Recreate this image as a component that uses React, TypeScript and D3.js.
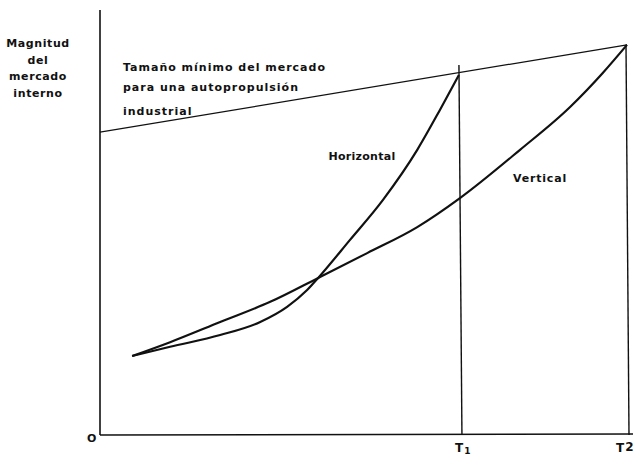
import React, { useEffect, useRef } from "react";
import * as d3 from "d3";

// time (0..100, T2 = 100) vs market size (0..100)
const horizontalX = [6.1, 13.3, 22.8, 30.4, 35.5, 39.3, 41.4, 47.4, 53.7, 60.2, 64.5, 68.1];
const horizontalY = [18.8, 21.0, 23.8, 26.9, 30.5, 34.5, 37.4, 46.4, 56.0, 67.9, 77.4, 85.7];
const verticalX = [6.1, 13.3, 22.8, 32.3, 41.4, 50.7, 60.2, 68.3, 79.7, 89.2, 95.4, 100];
const verticalY = [18.8, 22.1, 26.9, 31.7, 37.4, 43.3, 49.5, 56.4, 67.9, 78.1, 86.2, 92.9];
const thresholdX = [0, 100];
const thresholdY = [72.1, 92.9];
const tickValues = [68.3, 100];
const tickLabels = ["T", "T"];
const tickSubs = ["1", "2"];
const yTitle = ["Magnitud", "del", "mercado", "interno"];
const thresholdLabel = ["Tamaño mínimo del mercado", "para una autopropulsión", "industrial"];

const App = () => {
    const ref = useRef<SVGSVGElement>(null);

    useEffect(() => {
        const width = 644;
        const height = 458;
        const svg = d3.select(ref.current);
        svg.selectAll("*").remove();

        const x = d3.scaleLinear().domain([0, 100]).range([100, 627]);
        const y = d3.scaleLinear().domain([0, 100]).range([435, 15]);
        const font = "'DejaVu Sans', sans-serif";

        svg.append("rect").attr("width", width).attr("height", height).attr("fill", "#fff");

        // axes
        svg.append("line")
            .attr("x1", x(0)).attr("x2", x(0))
            .attr("y1", 10).attr("y2", y(0))
            .attr("stroke", "#111").attr("stroke-width", 1.6);
        svg.append("line")
            .attr("x1", x(0)).attr("x2", 633)
            .attr("y1", y(0)).attr("y2", y(0) - 1)
            .attr("stroke", "#111").attr("stroke-width", 1.4);

        // T1 / T2 verticals
        const tLines = [
            { t: tickValues[0], top: y(horizontalY[horizontalY.length - 1]) - 10 },
            { t: tickValues[1], top: y(thresholdY[1]) },
        ];
        tLines.forEach((d) => {
            svg.append("line")
                .attr("x1", x(d.t) - 1).attr("x2", x(d.t) + 2)
                .attr("y1", d.top).attr("y2", y(0))
                .attr("stroke", "#111").attr("stroke-width", 1.4);
        });

        // threshold line
        svg.append("path")
            .datum(thresholdX.map((v, i) => [v, thresholdY[i]] as [number, number]))
            .attr("d", d3.line().x((d) => x(d[0])).y((d) => y(d[1])))
            .attr("fill", "none").attr("stroke", "#111").attr("stroke-width", 1.3);

        const curve = d3.line<[number, number]>()
            .x((d) => x(d[0])).y((d) => y(d[1]))
            .curve(d3.curveMonotoneX);

        svg.append("path")
            .datum(horizontalX.map((v, i) => [v, horizontalY[i]] as [number, number]))
            .attr("d", curve)
            .attr("fill", "none").attr("stroke", "#111").attr("stroke-width", 2.2);
        svg.append("path")
            .datum(verticalX.map((v, i) => [v, verticalY[i]] as [number, number]))
            .attr("d", curve)
            .attr("fill", "none").attr("stroke", "#111").attr("stroke-width", 2.2);

        const text = (tx: number, ty: number, s: string, anchor = "start", size = 11, ls = 0.6) =>
            svg.append("text")
                .attr("x", tx).attr("y", ty)
                .attr("text-anchor", anchor)
                .attr("font-family", font)
                .attr("font-weight", "bold")
                .attr("font-size", size)
                .attr("letter-spacing", ls)
                .attr("fill", "#111")
                .text(s);

        yTitle.forEach((s, i) => text(38, 47 + i * 16.5, s, "middle"));
        thresholdLabel.forEach((s, i) => text(123, 71 + i * 20 + (i === 2 ? 4 : 0), s, "start", 11, 1.0));
        text(362, 160, "Horizontal", "middle", 11, 0.3);
        text(540, 182, "Vertical", "middle", 11, 0.8);
        text(92, 442, "O", "middle", 11);

        tickValues.forEach((t, i) => {
            const g = text(x(t) - (i === 0 ? 5 : 11), 452, tickLabels[i], "start", 12, 1);
            g.append("tspan").attr("dy", i === 0 ? 2 : -1).attr("font-size", i === 0 ? 9 : 12).text(tickSubs[i]);
        });
    }, []);

    return (
        <svg
            ref={ref}
            width={644}
            height={458}
            style={{ display: "block", position: "absolute", left: 0, top: 0 }}
        />
    );
};

export default App;
